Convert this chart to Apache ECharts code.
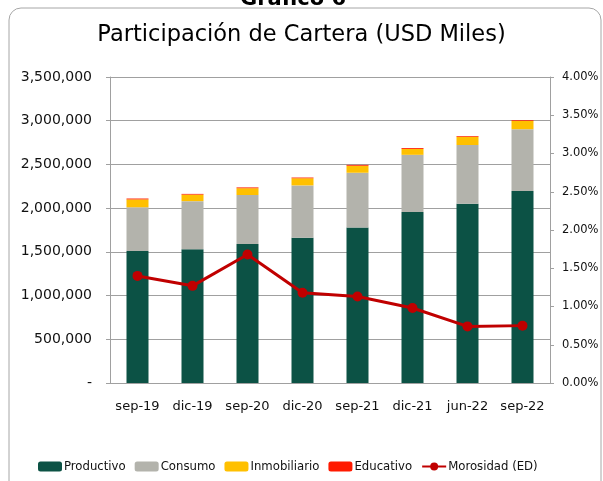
<!DOCTYPE html>
<html>
<head>
<meta charset="utf-8">
<script src="https://cdn.jsdelivr.net/npm/echarts@6/dist/echarts.min.js"></script>
<style>
  html, body { margin: 0; padding: 0; background: #fff; }
  #chart { width: 603px; height: 481px; }
</style>
</head>
<body>
<div id="chart"></div>
<script>
// datos
const periodos = ["sep-19", "dic-19", "sep-20", "dic-20", "sep-21", "dic-21", "jun-22", "sep-22"];
const productivo = [1510000, 1530000, 1590000, 1660000, 1780000, 1955000, 2050000, 2195000];
const consumo = [500000, 550000, 560000, 600000, 625000, 655000, 672000, 708000];
const inmobiliario = [90000, 75000, 78000, 82000, 80000, 68000, 95000, 95000];
const educativo = [10000, 8000, 9000, 8000, 10000, 10000, 8000, 8000];
const morosidad = [1.40, 1.27, 1.68, 1.18, 1.13, 0.98, 0.74, 0.75];

const chart = echarts.init(document.getElementById("chart"));
const fuente = "DejaVu Sans";

const option = {
  textStyle: { fontFamily: fuente },
  animation: false,
  graphic: [
    {
      type: "rect",
      shape: { x: 9, y: 8, width: 592, height: 520, r: 12 },
      style: { fill: "none", stroke: "#a6a6a6", lineWidth: 1 },
      silent: true
    },
    {
      type: "text",
      x: 293,
      y: 10,
      style: {
        text: "Gráfico 6",
        font: "bold 21px DejaVu Sans",
        fill: "#000",
        align: "center",
        verticalAlign: "bottom"
      }
    }
  ],
  title: {
    text: "Participación de Cartera (USD Miles)",
    left: "center",
    top: 19,
    textStyle: { fontSize: 22.5, fontWeight: "normal", color: "#000", fontFamily: fuente }
  },
  legend: {
    bottom: 3,
    left: 33,
    itemWidth: 24,
    itemHeight: 10,
    itemGap: 9,
    textStyle: { fontSize: 13, color: "#111", fontFamily: "DejaVu Sans Condensed", padding: [0, 0, 0, -3] },
    data: ["Productivo", "Consumo", "Inmobiliario", "Educativo", "Morosidad (ED)"]
  },
  grid: { left: 110, right: 53, top: 77, bottom: 98 },
  xAxis: {
    type: "category",
    data: periodos,
    axisLine: { lineStyle: { color: "#a0a0a0" } },
    axisTick: { show: false },
    axisLabel: { color: "#111", fontSize: 13, margin: 17, interval: 0 }
  },
  yAxis: [
    {
      type: "value",
      min: 0,
      max: 3500000,
      interval: 500000,
      axisLine: { show: true, lineStyle: { color: "#a0a0a0" } },
      axisTick: { show: true, length: 4, lineStyle: { color: "#a0a0a0" } },
      splitLine: { lineStyle: { color: "#a0a0a0" } },
      axisLabel: {
        color: "#111",
        fontSize: 14,
        margin: 18,
        formatter: function (v) {
          return v === 0 ? "-" : v.toLocaleString("en-US");
        }
      }
    },
    {
      type: "value",
      min: 0,
      max: 4,
      interval: 0.5,
      position: "right",
      axisLine: { show: true, lineStyle: { color: "#a0a0a0" } },
      axisTick: { show: true, length: 4, lineStyle: { color: "#a0a0a0" } },
      splitLine: { show: false },
      axisLabel: {
        color: "#111",
        fontSize: 11.5,
        margin: 12,
        formatter: function (v) {
          return v.toFixed(2) + "%";
        }
      }
    }
  ],
  series: [
    {
      name: "Productivo",
      type: "bar",
      stack: "cartera",
      barWidth: 22,
      itemStyle: { color: "#0c5245" },
      data: productivo
    },
    {
      name: "Consumo",
      type: "bar",
      stack: "cartera",
      itemStyle: { color: "#b3b3ac" },
      data: consumo
    },
    {
      name: "Inmobiliario",
      type: "bar",
      stack: "cartera",
      itemStyle: { color: "#ffc000" },
      data: inmobiliario
    },
    {
      name: "Educativo",
      type: "bar",
      stack: "cartera",
      itemStyle: { color: "#ff1a00" },
      data: educativo
    },
    {
      name: "Morosidad (ED)",
      type: "line",
      yAxisIndex: 1,
      symbol: "circle",
      symbolSize: 10,
      itemStyle: { color: "#c00000" },
      lineStyle: { color: "#c00000", width: 3 },
      data: morosidad
    }
  ]
};

chart.setOption(option);
</script>
</body>
</html>
